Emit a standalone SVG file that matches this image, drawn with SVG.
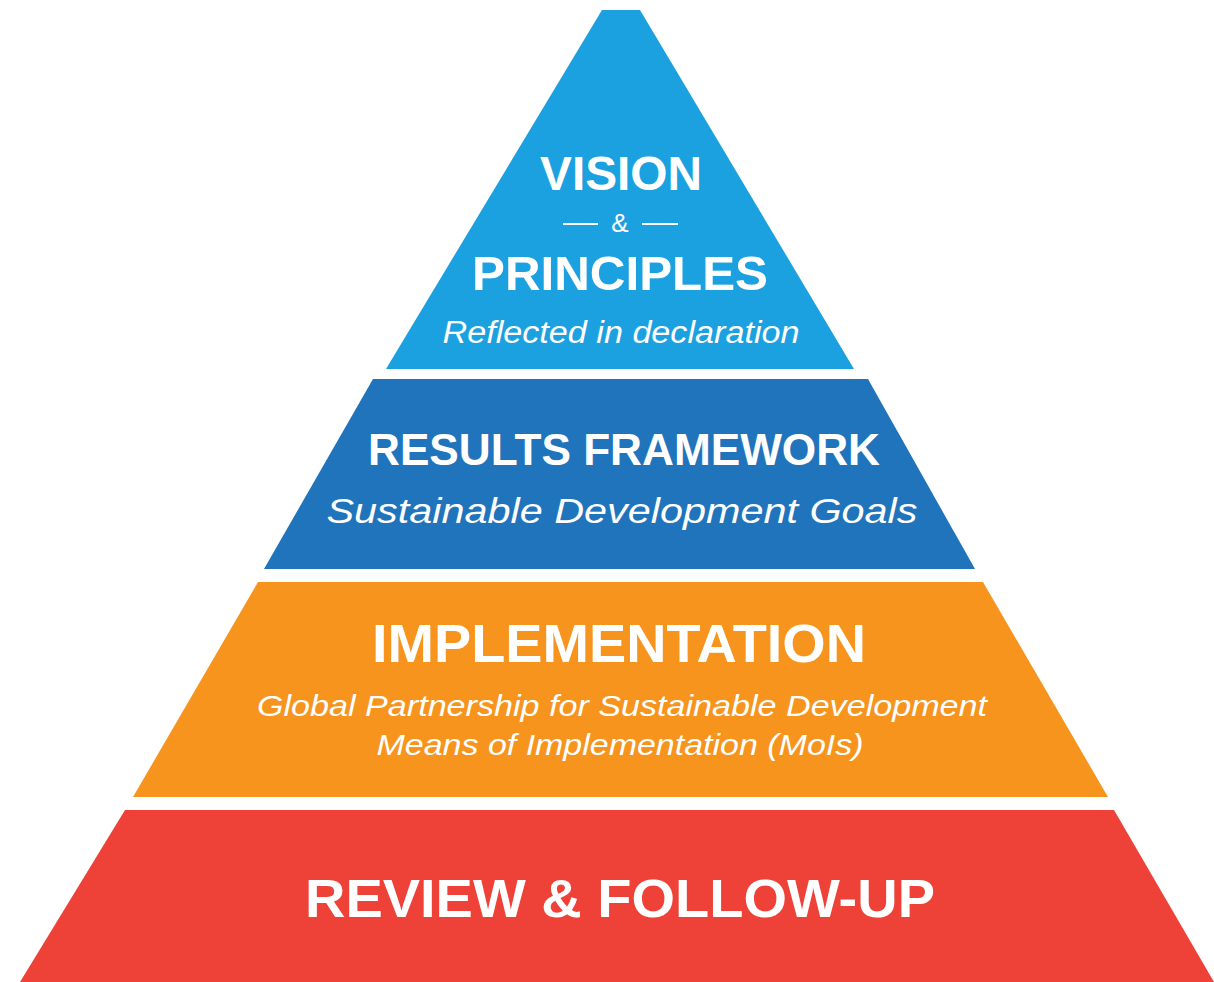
<svg xmlns="http://www.w3.org/2000/svg" width="1214" height="982" viewBox="0 0 1214 982">
<style>
.t{fill:#ffffff;font-family:"Liberation Sans",Arial,sans-serif;text-anchor:middle}
.b{font-weight:bold}
.i{font-style:italic}
</style>
<rect width="1214" height="982" fill="#ffffff"/>
<g id="tier-vision">
<polygon points="602,10 640,10 854,369 386,369" fill="#1CA1E0"/>
<text class="t b" x="621" y="190" font-size="48" textLength="162" lengthAdjust="spacingAndGlyphs">VISION</text>
<line x1="563" y1="224" x2="598" y2="224" stroke="#ffffff" stroke-width="2"/>
<line x1="642" y1="224" x2="678" y2="224" stroke="#ffffff" stroke-width="2"/>
<text class="t" x="620" y="232" font-size="26">&amp;</text>
<text class="t b" x="620" y="290" font-size="49" textLength="296" lengthAdjust="spacingAndGlyphs">PRINCIPLES</text>
<text class="t i" x="621" y="343" font-size="31" textLength="357" lengthAdjust="spacingAndGlyphs">Reflected in declaration</text>
</g>
<g id="tier-results">
<polygon points="373,379 868,379 975,569 264,569" fill="#1F74BB"/>
<text class="t b" x="624" y="465" font-size="44" textLength="512" lengthAdjust="spacingAndGlyphs">RESULTS FRAMEWORK</text>
<text class="t i" x="622" y="523" font-size="35" textLength="591" lengthAdjust="spacingAndGlyphs">Sustainable  Development  Goals</text>
</g>
<g id="tier-implementation">
<polygon points="258,582 983,582 1108,797 133,797" fill="#F7941E"/>
<text class="t b" x="619" y="662" font-size="54" textLength="494" lengthAdjust="spacingAndGlyphs">IMPLEMENTATION</text>
<text class="t i" x="622" y="716" font-size="30" textLength="730" lengthAdjust="spacingAndGlyphs">Global Partnership for Sustainable Development</text>
<text class="t i" x="620" y="755" font-size="30" textLength="487" lengthAdjust="spacingAndGlyphs">Means of Implementation (MoIs)</text>
</g>
<g id="tier-review">
<polygon points="125,810 1114,810 1214,982 20,982" fill="#EE4137"/>
<text class="t b" x="620" y="917" font-size="54" textLength="630" lengthAdjust="spacingAndGlyphs">REVIEW &amp; FOLLOW-UP</text>
</g>
<g id="connectors"></g>
</svg>
